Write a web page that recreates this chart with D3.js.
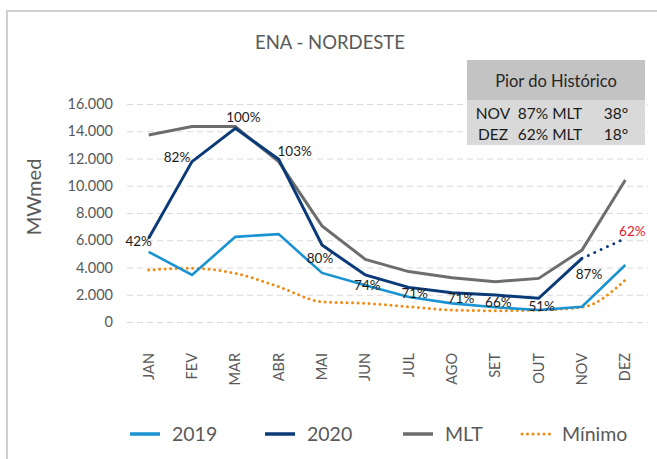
<!DOCTYPE html>
<html>
<head>
<meta charset="utf-8">
<script src="https://cdn.jsdelivr.net/npm/d3@7"></script>
<style>
  body { margin: 0; background: #fff; }
  svg { font-family: Lato, "Open Sans", sans-serif; }
</style>
</head>
<body>
<svg id="chart" width="657" height="459"></svg>
<script>
'use strict'

/****** DATA ******/

const months = ['JAN','FEV','MAR','ABR','MAI','JUN','JUL','AGO','SET','OUT','NOV','DEZ']
const yTicks = [0, 2000, 4000, 6000, 8000, 10000, 12000, 14000, 16000]

const ena2019 = [5150, 3450, 6250, 6450, 3600, 2700, 1830, 1370, 1080, 880, 1120, 4180]
const ena2020 = [6140, 11770, 14220, 11940, 5650, 3450, 2540, 2150, 1980, 1740, 4670, 6140] // DEZ is forecast (dotted)
const mlt     = [13730, 14340, 14340, 11770, 7050, 4600, 3700, 3250, 2960, 3200, 5280, 10420]
const minimo  = [3820, 3940, 3570, 2590, 1490, 1370, 1120, 880, 830, 880, 1080, 3080]
const pct2020 = ['42%','82%','100%','103%','80%','74%','71%','71%','66%','51%','87%','62%']

const tableHeader = 'Pior do Histórico'
const tableRows = [
  ['NOV', '87% MLT', '38°'],
  ['DEZ', '62% MLT', '18°']
]

/****** LAYOUT ******/

// where each % label sits relative to its point
const pctOffsets = [[-10,3],[-15,-4],[8,-11],[16,-8],[-2,13],[2,10],[6,6],[9,6],[3,7],[3,8],[7,16],[7,-7]]

const C = {
  y2019: '#1a93d2',
  y2020: '#0b3a79',
  mlt: '#6d6d6d',
  min: '#f28a12',
  text: '#595959',
  grid: '#d9d9d9'
}

const svg = d3.select('#chart')

// outer frame
svg.append('rect')
  .attr('x', 7).attr('y', 11)
  .attr('width', 700).attr('height', 500)
  .attr('fill', 'none')
  .attr('stroke', '#cfcfcf')
  .attr('stroke-width', 2)

const x = d3.scaleBand().domain(months).range([127, 647])
const cx = m => x(m) + x.bandwidth() / 2
const y = d3.scaleLinear().domain([0, 16000]).range([322, 104])

const br = d3.formatLocale({decimal: ',', thousands: '.', grouping: [3], currency: ['R$', '']})
const fmt = br.format(',d')

// title
svg.append('text')
  .attr('x', 330).attr('y', 49)
  .attr('text-anchor', 'middle')
  .attr('font-size', 18.5)
  .attr('fill', C.text)
  .text('ENA - NORDESTE')

// y axis (gridlines + labels)
const yAxis = svg.append('g')
  .attr('transform', 'translate(127,0)')
  .call(d3.axisLeft(y).tickValues(yTicks).tickFormat(fmt).tickSize(-521).tickPadding(14))
yAxis.select('.domain').remove()
yAxis.selectAll('.tick line')
  .attr('stroke', C.grid)
  .attr('stroke-dasharray', '6,4')
yAxis.selectAll('.tick text')
  .attr('fill', C.text)
  .attr('font-size', 14.5)
  .attr('font-family', 'Lato, sans-serif')

svg.append('text')
  .attr('transform', 'translate(41,197) rotate(-90)')
  .attr('text-anchor', 'middle')
  .attr('font-size', 20)
  .attr('fill', C.text)
  .text('MWmed')

// x axis labels, rotated
const xAxis = svg.append('g')
  .attr('transform', 'translate(0,322)')
  .call(d3.axisBottom(x).tickSize(0).tickPadding(0))
xAxis.select('.domain').remove()
xAxis.selectAll('.tick text')
  .attr('fill', C.text)
  .attr('font-size', 14.5)
  .attr('font-family', 'Lato, sans-serif')
  .attr('text-anchor', 'end')
  .attr('transform', 'translate(5,31) rotate(-90)')
  .attr('dy', 0)
  .attr('x', 0).attr('y', 0)

// lines
const pts = arr => arr.map((v, i) => ({m: months[i], v}))
const line = d3.line().x(d => cx(d.m)).y(d => y(d.v))
const smooth = d3.line().x(d => cx(d.m)).y(d => y(d.v)).curve(d3.curveMonotoneX)

const plot = svg.append('g')

plot.append('path')
  .datum(pts(minimo))
  .attr('d', smooth)
  .attr('fill', 'none')
  .attr('stroke', C.min)
  .attr('stroke-width', 3)
  .attr('stroke-linecap', 'round')
  .attr('stroke-dasharray', '0,5.5')

plot.append('path')
  .datum(pts(mlt))
  .attr('d', line)
  .attr('fill', 'none')
  .attr('stroke', C.mlt)
  .attr('stroke-width', 3)

plot.append('path')
  .datum(pts(ena2019))
  .attr('d', line)
  .attr('fill', 'none')
  .attr('stroke', C.y2019)
  .attr('stroke-width', 2.6)

const p2020 = pts(ena2020)
plot.append('path')
  .datum(p2020.slice(0, 11))
  .attr('d', line)
  .attr('fill', 'none')
  .attr('stroke', C.y2020)
  .attr('stroke-width', 3)

plot.append('path')
  .datum(p2020.slice(10))
  .attr('d', line)
  .attr('fill', 'none')
  .attr('stroke', C.y2020)
  .attr('stroke-width', 3)
  .attr('stroke-linecap', 'round')
  .attr('stroke-dasharray', '0,7')

// % labels on 2020 series
plot.selectAll('.pct')
  .data(p2020)
  .join('text')
    .attr('class', 'pct')
    .attr('x', (d, i) => cx(d.m) + pctOffsets[i][0])
    .attr('y', (d, i) => y(d.v) + pctOffsets[i][1])
    .attr('dy', '0.35em')
    .attr('text-anchor', 'middle')
    .attr('font-size', 13.5)
    .attr('fill', (d, i) => i === 11 ? '#e01b2a' : '#1a1a1a')
    .text((d, i) => pct2020[i])

// "Pior do Histórico" table
const tbl = svg.append('g')
tbl.append('rect').attr('x', 467).attr('y', 60).attr('width', 178).attr('height', 40).attr('fill', '#c3c3c3')
tbl.append('rect').attr('x', 467).attr('y', 100).attr('width', 178).attr('height', 45).attr('fill', '#d9d9d9')
tbl.append('text')
  .attr('x', 556).attr('y', 87)
  .attr('text-anchor', 'middle')
  .attr('font-size', 16.5)
  .attr('fill', '#262626')
  .text(tableHeader)

const colX = [493, 550, 616]
tableRows.forEach((row, r) => {
  row.forEach((cell, c) => {
    tbl.append('text')
      .attr('x', colX[c]).attr('y', 119 + r * 21)
      .attr('text-anchor', 'middle')
      .attr('font-size', 15.5)
      .attr('fill', '#1a1a1a')
      .text(cell)
  })
})

// legend
const legend = [
  {name: '2019', color: C.y2019, x: 130, dash: null},
  {name: '2020', color: C.y2020, x: 265, dash: null},
  {name: 'MLT', color: C.mlt, x: 403, dash: null},
  {name: 'Mínimo', color: C.min, x: 520, dash: '0,5.5'}
]
const lg = svg.append('g').attr('transform', 'translate(0,434)')
legend.forEach(l => {
  lg.append('line')
    .attr('x1', l.x + (l.dash ? 2 : 0)).attr('x2', l.x + 30)
    .attr('stroke', l.color)
    .attr('stroke-width', l.dash ? 3 : 3.5)
    .attr('stroke-linecap', l.dash ? 'round' : 'butt')
    .attr('stroke-dasharray', l.dash)
  lg.append('text')
    .attr('x', l.x + 42).attr('dy', '0.35em')
    .attr('font-size', 19.5)
    .attr('fill', C.text)
    .text(l.name)
})
</script>
</body>
</html>
